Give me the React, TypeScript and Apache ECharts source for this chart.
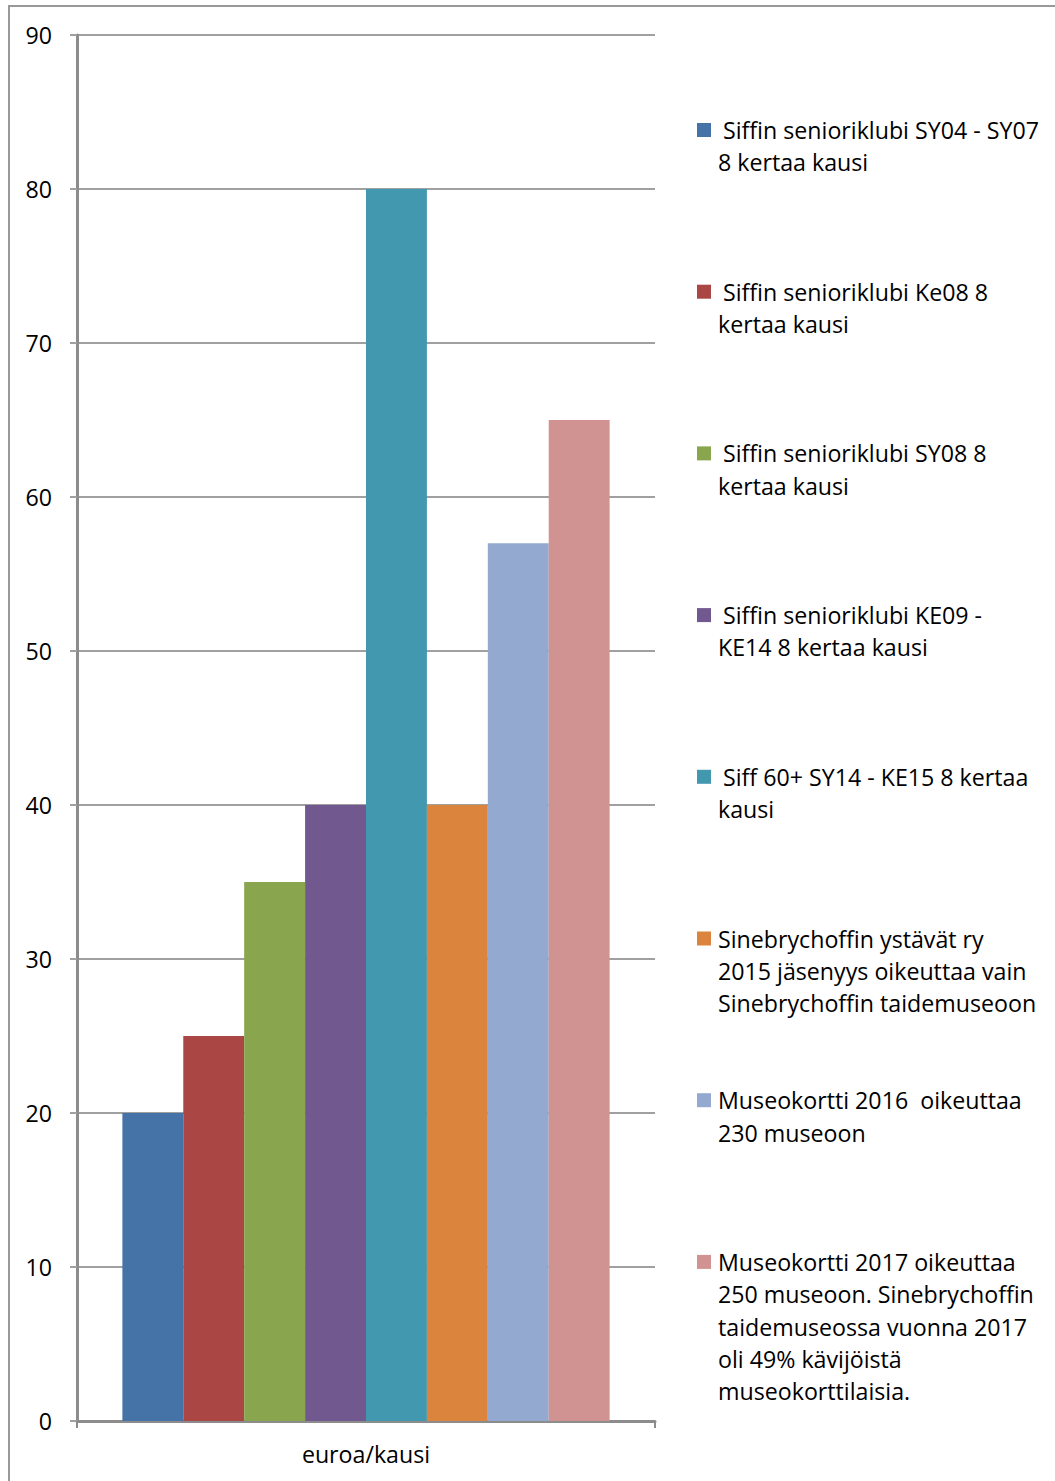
import React, { useEffect, useRef } from "react";
import * as echarts from "echarts";

const category = ["euroa/kausi"];
const seriesNames = [
  " Siffin senioriklubi SY04 - SY07\n8 kertaa kausi",
  " Siffin senioriklubi Ke08 8\nkertaa kausi",
  " Siffin senioriklubi SY08 8\nkertaa kausi",
  " Siffin senioriklubi KE09 -\nKE14 8 kertaa kausi",
  " Siff 60+ SY14 - KE15 8 kertaa\nkausi",
  "Sinebrychoffin ystävät ry\n2015 jäsenyys oikeuttaa vain\nSinebrychoffin taidemuseoon",
  "Museokortti 2016  oikeuttaa\n230 museoon",
  "Museokortti 2017 oikeuttaa\n250 museoon. Sinebrychoffin\ntaidemuseossa vuonna 2017\noli 49% kävijöistä\nmuseokorttilaisia.",
];
const values = [20, 25, 35, 40, 80, 40, 57, 65];
const colors = ["#4572A7", "#AA4643", "#89A54E", "#71588F", "#4198AF", "#DB843D", "#93A9CF", "#D19392"];
const yTicks = { min: 0, max: 90, interval: 10 };

const FONT = "Open Sans";
const FS = 23.2;

export default function App() {
  const ref = useRef<HTMLDivElement>(null);
  useEffect(() => {
    if (!ref.current) return;
    const chart = echarts.init(ref.current, undefined, { renderer: "svg" });
    const legendTop = 130;
    const legendStep = 161.7;
    const lineH = 32.3;
    const legendGraphics: any[] = [];
    seriesNames.forEach((name, i) => {
      const cy = legendTop + i * legendStep;
      const lead = name.startsWith(" ");
      legendGraphics.push({
        type: "rect",
        shape: { x: 697, y: cy - 7, width: 14, height: 14 },
        style: { fill: colors[i] },
        silent: true,
      });
      name.split("\n").forEach((line, k) => {
        const isLead = k === 0 && lead;
        legendGraphics.push({
          type: "text",
          x: isLead ? 723 : 718,
          y: cy + k * lineH,
          style: {
            text: isLead ? line.slice(1) : line,
            font: `${FS}px "${FONT}"`,
            fill: "#000",
            verticalAlign: "middle",
            align: "left",
          },
          silent: true,
        });
      });
    });

    chart.setOption({
      animation: false,
      backgroundColor: "#ffffff",
      textStyle: { fontFamily: FONT },
      grid: { left: 77, right: 400, top: 35, bottom: 60, containLabel: false },
      xAxis: {
        type: "category",
        data: category,
        axisLine: { show: true, lineStyle: { color: "#8c8c8c", width: 3 } },
        axisTick: { show: true, length: 7, lineStyle: { color: "#8c8c8c", width: 2 } },
        axisLabel: { color: "#000", fontSize: FS, fontFamily: FONT, margin: 21 },
        splitLine: { show: false },
      },
      yAxis: {
        type: "value",
        min: yTicks.min,
        max: yTicks.max,
        interval: yTicks.interval,
        axisLine: { show: true, lineStyle: { color: "#8c8c8c", width: 3 } },
        axisTick: { show: true, length: 7, lineStyle: { color: "#a0a0a0", width: 2 } },
        axisLabel: { color: "#000", fontSize: FS, fontFamily: FONT, margin: 25 },
        splitLine: { show: true, lineStyle: { color: "#a0a0a0", width: 2 } },
      },
      series: seriesNames.map((name, i) => ({
        type: "bar",
        name,
        data: [values[i]],
        itemStyle: { color: colors[i] },
        barGap: "0%",
        barCategoryGap: "15.7%",
      })),
      graphic: [
        {
          type: "rect",
          shape: { x: 9, y: 6, width: 1200, height: 1600 },
          style: { fill: "none", stroke: "#999999", lineWidth: 2 },
          silent: true,
          z: 100,
        },
        ...legendGraphics,
      ],
    });
    return () => chart.dispose();
  }, []);
  return (
    <div
      ref={ref}
      style={{ position: "absolute", left: 0, top: 0, width: 1055, height: 1481 }}
    />
  );
}
